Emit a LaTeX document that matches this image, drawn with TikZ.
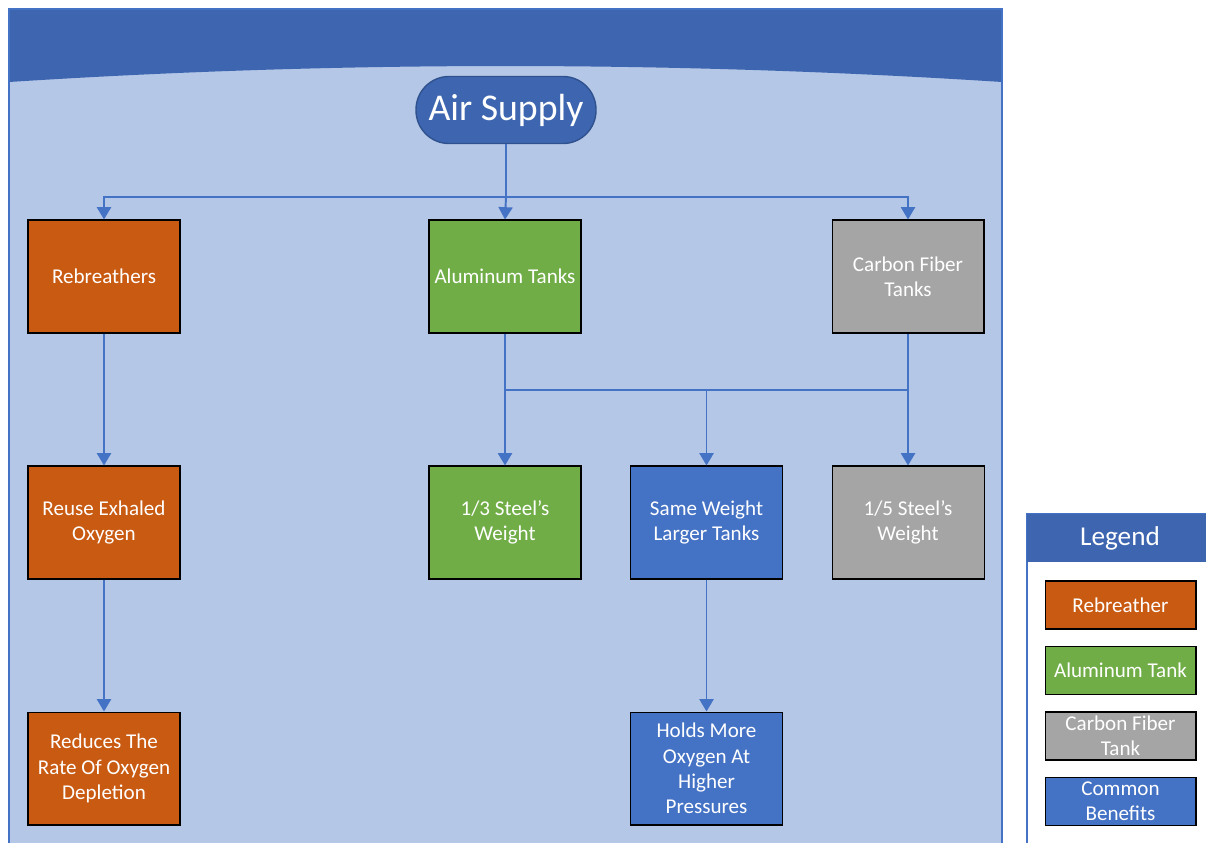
\documentclass[tikz,border=0pt]{standalone}
\usepackage{fontspec}
\setmainfont{Carlito}
\usetikzlibrary{arrows.meta,positioning,calc}

\definecolor{hdrblue}{HTML}{3E66B0}
\definecolor{pillline}{HTML}{2F528F}
\definecolor{panelblue}{HTML}{B4C7E7}
\definecolor{linkblue}{HTML}{4472C4}
\definecolor{rebreather}{HTML}{C95A12}
\definecolor{aluminum}{HTML}{70AD47}
\definecolor{carbon}{HTML}{A5A5A5}
\definecolor{common}{HTML}{4472C4}

\tikzset{
  box/.style={draw=black,line width=0.6pt,minimum width=3.04cm,minimum height=2.26cm,
    align=center,inner sep=0pt,text=white,
    font=\fontsize{12}{14.4}\selectfont},
  keybox/.style={box,minimum width=3.02cm,minimum height=0.96cm},
  link/.style={draw=linkblue,line width=1.1pt},
}

\begin{document}
\begin{tikzpicture}[x=0.02cm,y=-0.02cm,line width=0.8pt,>={Triangle[length=7pt,width=8pt]}]
    \useasboundingbox (0,0) rectangle (1206,842);
    \clip (0,0) rectangle (1206,842);

    % panel and header
    \fill[panelblue] (9,9) rectangle (1002,860);
    \fill[hdrblue] (9,9) -- (1002,9) -- (1002,82) .. controls (671,60.7) and (340,60.7) .. (9,82) -- cycle;
    \draw[linkblue,line width=0.6pt] (9,9) rectangle (1002,860);

    \node[draw=pillline,fill=hdrblue,rounded corners=0.66cm,minimum width=3.6cm,minimum height=1.34cm,
      text=white,font=\fontsize{21.5}{26}\selectfont] (air) at (506,110) {Air Supply};

    % first row
    \node[box,fill=rebreather] (reb) at (104,276.5) {Rebreathers};
    \node[box,fill=aluminum] (alu) at (505,276.5) {Aluminum Tanks};
    \node[box,fill=carbon] (carb) at (908,276.5) {Carbon Fiber\\Tanks};

    % second row
    \node[box,fill=rebreather,below=2.64cm of reb] (reuse) {Reuse Exhaled\\Oxygen};
    \node[box,fill=aluminum,below=2.64cm of alu] (third) {1/3 Steel’s\\Weight};
    \node[box,fill=common,right=0.97cm of third] (same) {Same Weight\\Larger Tanks};
    \node[box,fill=carbon,right=0.97cm of same] (fifth) {1/5 Steel’s\\Weight};

    % third row
    \node[box,fill=rebreather,below=2.64cm of reuse] (reduce) {Reduces The\\Rate Of Oxygen\\Depletion};
    \node[box,fill=common,below=2.64cm of same] (holds) {Holds More\\Oxygen At\\Higher\\Pressures};

    \coordinate (split) at (506,197);
    \coordinate (join) at (506,390);

    \draw[link] (air.south) -- (split);
    \draw[link,->] (split) -| (reb.north);
    \draw[link,->] (split) -- (alu.north);
    \draw[link,->] (split) -| (carb.north);

    \draw[link,->] (reb) -- (reuse);
    \draw[link,->] (reuse) -- (reduce);

    \draw[link] (alu.south) -- (alu.south |- join) -- (carb.south |- join) -- (carb.south);
    \draw[link,->] (alu.south |- join) -- (third.north);
    \draw[link,->] (same.north |- join) -- (same.north);
    \draw[link,->] (fifth.north |- join) -- (fifth.north);
    \draw[link,->] (same) -- (holds);

    % legend
    \fill[white] (1027,514) rectangle (1230,860);
    \draw[linkblue,line width=0.6pt] (1027,514) rectangle (1230,860);
    \fill[hdrblue] (1027,514) rectangle (1230,562);
    \node[text=white,font=\fontsize{15.5}{18}\selectfont] (legend) at (1120,538) {Legend};
    \node[keybox,fill=rebreather] (keyreb) at (1120.5,605) {Rebreather};
    \node[keybox,fill=aluminum] (keyalu) at (1120.5,670.5) {Aluminum Tank};
    \node[keybox,fill=carbon] (keycarb) at (1120.5,736) {Carbon Fiber\\Tank};
    \node[keybox,fill=common] (keycommon) at (1120.5,801.5) {Common\\Benefits};
\end{tikzpicture}
\end{document}
